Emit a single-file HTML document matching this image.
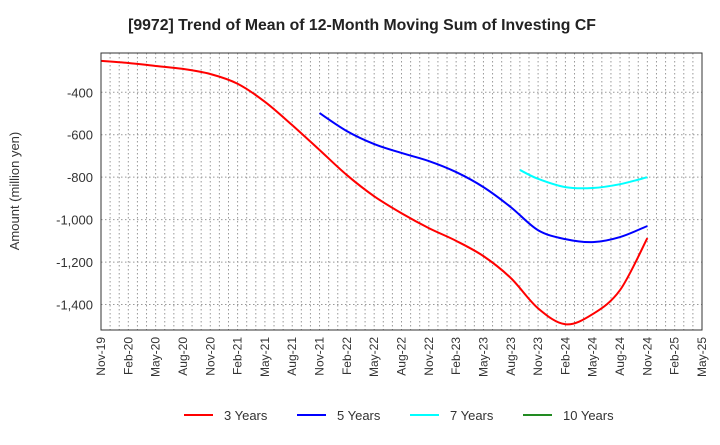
<!DOCTYPE html>
<html><head><meta charset="utf-8"><style>
body{margin:0;background:#fff;font-family:"Liberation Sans",sans-serif}
</style></head><body>
<svg width="720" height="440" xmlns="http://www.w3.org/2000/svg">
<text x="362" y="30" text-anchor="middle" font-size="15.8" font-weight="bold" fill="#222">[9972]  Trend of Mean of 12-Month Moving Sum of Investing CF</text>
<text transform="translate(19,191) rotate(-90)" text-anchor="middle" font-size="13" fill="#333">Amount (million yen)</text>
<g id="grid"></g><g id="axes"></g><g id="series"></g>
<rect x="101" y="53" width="601" height="277" fill="none" stroke="#333" stroke-width="1"/>
<g id="legend"></g>
</svg>
<script>
const xLabels=["Nov-19","Feb-20","May-20","Aug-20","Nov-20","Feb-21","May-21","Aug-21","Nov-21","Feb-22","May-22","Aug-22","Nov-22","Feb-23","May-23","Aug-23","Nov-23","Feb-24","May-24","Aug-24","Nov-24","Feb-25","May-25"];
const yTicks=[-400,-600,-800,-1000,-1200,-1400];
const months3=[0,3,6,9,12,15,18,21,24,27,30,33,36,39,42,45,48,51,54,57,60];
const values3=[-252,-262,-276,-290,-314,-360,-445,-555,-672,-790,-890,-970,-1040,-1100,-1172,-1275,-1418,-1493,-1445,-1332,-1087];
const months5=[24,27,30,33,36,39,42,45,48,51,54,57,60];
const values5=[-498,-583,-644,-686,-724,-776,-847,-941,-1050,-1092,-1106,-1082,-1030];
const months7=[46,48,51,54,57,60];
const values7=[-766,-808,-847,-851,-833,-800];
const months10=[];
const values10=[];
const L=101,R=702,T=53,B=330,yMax=-215,yMin=-1520,nM=66;
const xs=m=>L+(R-L)*m/nM;
const ys=v=>T+(B-T)*(yMax-v)/(yMax-yMin);
const NS="http://www.w3.org/2000/svg";
function mk(t,a,p){const e=document.createElementNS(NS,t);for(const k in a)e.setAttribute(k,a[k]);p.appendChild(e);return e;}
const grid=document.getElementById('grid'),axes=document.getElementById('axes'),ser=document.getElementById('series'),leg=document.getElementById('legend');
for(let m=1;m<nM;m++){const l=mk('line',{x1:xs(m),x2:xs(m),y1:T,y2:B,stroke:'#999','stroke-dasharray':'1.5,2.5'},grid);

}
yTicks.forEach(v=>{const l=mk('line',{x1:L,x2:R,y1:ys(v),y2:ys(v),stroke:'#999','stroke-dasharray':'1.5,2.5'},grid);


const t=mk('text',{x:L-8,y:ys(v)+5,'text-anchor':'end','font-size':'13',fill:'#333'},axes);t.textContent=v.toLocaleString('en-US');

});
xLabels.forEach((s,i)=>{const x=xs(i*3);const t=mk('text',{transform:`translate(${x+4},337) rotate(-90)`,'text-anchor':'end','font-size':'12',fill:'#333'},axes);t.textContent=s;

});
function path(ms,vs){const p=ms.map((m,i)=>[xs(m),ys(vs[i])]);if(p.length<2)return'';let d=`M${p[0][0]},${p[0][1]}`;
for(let i=0;i<p.length-1;i++){const p0=p[i-1]||p[i],p1=p[i],p2=p[i+1],p3=p[i+2]||p2;
d+=` C${p1[0]+(p2[0]-p0[0])/6},${p1[1]+(p2[1]-p0[1])/6} ${p2[0]-(p3[0]-p1[0])/6},${p2[1]-(p3[1]-p1[1])/6} ${p2[0]},${p2[1]}`;}return d;}
[[months3,values3,'#ff0000','3 Years','series-3-years'],[months5,values5,'#0000ff','5 Years','series-5-years'],[months7,values7,'#00ffff','7 Years','series-7-years'],[months10,values10,'#228b22','10 Years','series-10-years']].forEach((s,i)=>{
if(s[0].length>1){const p=mk('path',{d:path(s[0],s[1]),fill:'none',stroke:s[2],'stroke-width':2},ser);

}
const lx=184+i*113;
const g=mk('g',{},leg);


mk('line',{x1:lx,x2:lx+29,y1:415,y2:415,stroke:s[2],'stroke-width':2},g);
const t=mk('text',{x:lx+40,y:420,'font-size':'13',fill:'#333'},g);t.textContent=s[3];});
</script>
</body></html>
